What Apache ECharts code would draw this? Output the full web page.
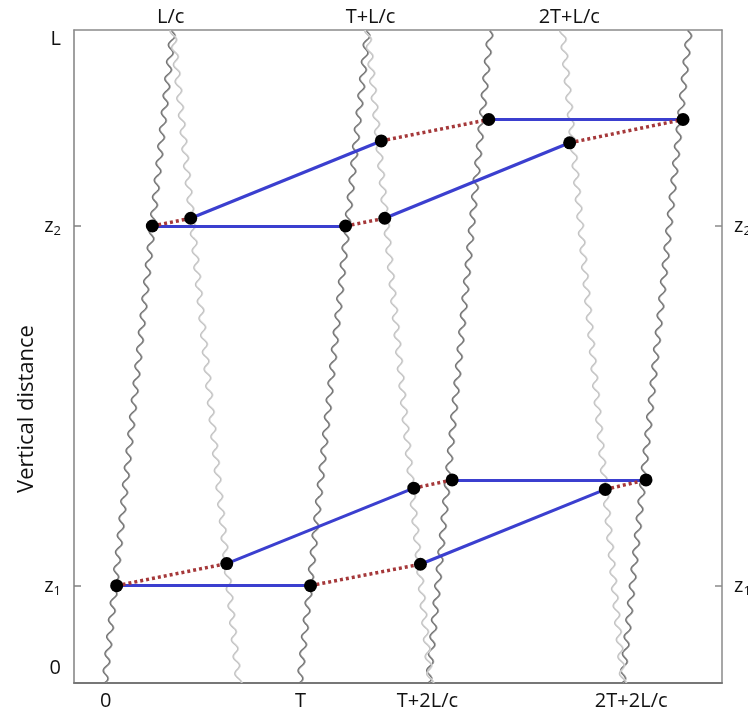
<!DOCTYPE html>
<html>
<head>
<meta charset="utf-8">
<script src="https://cdn.jsdelivr.net/npm/echarts@6/dist/echarts.min.js"></script>
<style>
html,body{margin:0;padding:0;background:#fff;}
#chart{width:748px;height:713px;}
</style>
</head>
<body>
<div id="chart"></div>
<script>
// ---- data (time in units where T = 10, height in units where L = 100) ----
const xRange = [-1.63, 31.63];
const yRange = [-2.38, 101.43];

// up-going wave fronts: [x at bottom, x at top]
const upWaves = [[-0.05, 3.44], [9.95, 13.44], [16.56, 19.74], [26.51, 29.95]];
// down-going (reflected) wave fronts: [x at top, x at bottom]
const downWaves = [[3.44, 6.82], [13.44, 16.67], [23.44, 26.56]];

// points
const pA = [2.39, 70.27], pB = [4.36, 71.5], pC = [12.31, 70.27], pD = [14.32, 71.5];
const pE = [14.14, 83.8], pF = [19.66, 87.2], pG = [29.63, 87.2], pH = [23.81, 83.5];
const qa = [0.56, 13.1], qb = [6.21, 16.6], qc = [10.51, 13.1], qd = [15.81, 28.6];
const qg = [16.15, 16.5], qe = [17.78, 29.9], qh = [25.64, 28.4], qf = [27.73, 29.9];

const blueSegments = [[pA, pC], [pB, pE], [pF, pG], [pD, pH], [qa, qc], [qb, qd], [qe, qf], [qg, qh]];
const redSegments = [[pA, pB], [pC, pD], [pE, pF], [pH, pG], [qa, qb], [qc, qg], [qd, qe], [qh, qf]];
const dots = [pA, pB, pC, pD, pE, pF, pG, pH, qa, qb, qc, qd, qg, qe, qh, qf];

// tick labels
const bottomTickValues = [0, 10, 16.51, 26.97];
const bottomTickLabels = ['0', 'T', 'T+2L/c', '2T+2L/c'];
const topTickValues = [3.33, 13.59, 23.79];
const topTickLabels = ['L/c', 'T+L/c', '2T+L/c'];
const leftTickValues = [0, 13.04, 70.27, 100];
const leftTickLabels = ['0', 'z{s|1}', 'z{s|2}', 'L'];
const rightTickValues = [13.04, 70.27];
const rightTickLabels = ['z{s|1}', 'z{s|2}'];
const yTickMarks = [13.04, 70.27];

function lookup(vals, labels) {
  return function (v) {
    for (let i = 0; i < vals.length; i++) if (Math.abs(vals[i] - v) < 1e-6) return labels[i];
    return '';
  };
}

const FONT = 'Open Sans';
const labelStyle = { fontFamily: FONT, fontSize: 20, color: '#111',
  rich: { s: { fontFamily: FONT, fontSize: 13, color: '#111', verticalAlign: 'bottom', padding: [10, 0, 0, 0] } } };

const waveData = upWaves.map(w => [w[0], w[1], 0]).concat(downWaves.map(w => [w[1], w[0], 1]));

function renderWave(params, api) {
  const xb = api.value(0), xt = api.value(1), kind = api.value(2);
  const p0 = api.coord([xb, yRange[0]]);
  const p1 = api.coord([xt, yRange[1]]);
  const dx = p1[0] - p0[0], dy = p1[1] - p0[1];
  const len = Math.sqrt(dx * dx + dy * dy);
  const amp = 2.8, lambda = 17;
  const pts = [];
  for (let s = 0; s <= len; s += 1) {
    const t = s / len;
    pts.push([p0[0] + dx * t + amp * Math.sin(2 * Math.PI * s / lambda + kind * 1.3), p0[1] + dy * t]);
  }
  return {
    type: 'group',
    children: [
      { type: 'polyline', shape: { points: pts },
        style: { stroke: kind === 0 ? '#727272' : '#c2c2c2', lineWidth: 1.7, fill: null } },
      { type: 'polyline', shape: { points: pts.map(p => [p[0] + 0.8, p[1]]) },
        style: { stroke: kind === 0 ? '#b4b4b4' : '#e4e4e4', lineWidth: 0.7, fill: null } }
    ]
  };
}

const chart = echarts.init(document.getElementById('chart'), null, { renderer: 'canvas' });
chart.setOption({
  backgroundColor: '#fff',
  animation: false,
  grid: { left: 74, right: 26, top: 30, bottom: 30, containLabel: false, outerBoundsMode: 'none' },
  xAxis: [
    { type: 'value', min: xRange[0], max: xRange[1], position: 'bottom',
      axisLine: { show: true, onZero: false, lineStyle: { color: '#777', width: 2 } },
      axisTick: { show: false }, splitLine: { show: false },
      axisLabel: Object.assign({ customValues: bottomTickValues, formatter: lookup(bottomTickValues, bottomTickLabels), margin: 8 }, labelStyle) },
    { type: 'value', min: xRange[0], max: xRange[1], position: 'top',
      axisLine: { show: true, onZero: false, lineStyle: { color: '#8a8a8a', width: 1.5 } },
      axisTick: { show: false }, splitLine: { show: false },
      axisLabel: Object.assign({ customValues: topTickValues, formatter: lookup(topTickValues, topTickLabels), margin: 3 }, labelStyle) }
  ],
  yAxis: [
    { type: 'value', min: yRange[0], max: yRange[1], position: 'left',
      axisLine: { show: true, onZero: false, lineStyle: { color: '#808080', width: 1.5 } },
      axisTick: { show: true, inside: true, length: 7, customValues: yTickMarks, lineStyle: { color: '#808080', width: 1.5 } },
      splitLine: { show: false },
      axisLabel: Object.assign({ customValues: leftTickValues, formatter: lookup(leftTickValues, leftTickLabels), margin: 13 }, labelStyle) },
    { type: 'value', min: yRange[0], max: yRange[1], position: 'right',
      axisLine: { show: true, onZero: false, lineStyle: { color: '#8a8a8a', width: 1.5 } },
      axisTick: { show: true, inside: true, length: 7, customValues: yTickMarks, lineStyle: { color: '#8a8a8a', width: 1.5 } },
      splitLine: { show: false },
      axisLabel: Object.assign({ customValues: rightTickValues, formatter: lookup(rightTickValues, rightTickLabels), margin: 12, hideOverlap: false }, labelStyle) }
  ],
  graphic: [
    { type: 'text', x: 27, y: 409, rotation: Math.PI / 2,
      style: { text: 'Vertical distance', fontFamily: FONT, fontSize: 22, fill: '#111', textAlign: 'center', textVerticalAlign: 'middle' } }
  ],
  series: [
    { type: 'custom', xAxisIndex: 0, yAxisIndex: 0, renderItem: renderWave, data: waveData, z: 1, silent: true, clip: true },
    { type: 'lines', coordinateSystem: 'cartesian2d', xAxisIndex: 0, yAxisIndex: 0, z: 3,
      lineStyle: { color: '#3b3fcf', width: 3.2, opacity: 1, curveness: 0 },
      data: blueSegments.map(s => ({ coords: s })) },
    { type: 'lines', coordinateSystem: 'cartesian2d', xAxisIndex: 0, yAxisIndex: 0, z: 3,
      lineStyle: { color: '#a5383a', width: 3.5, opacity: 1, type: [3, 3], cap: 'butt', curveness: 0 },
      data: redSegments.map(s => ({ coords: s })) },
    { type: 'scatter', xAxisIndex: 0, yAxisIndex: 0, z: 5, symbol: 'circle', symbolSize: 13,
      itemStyle: { color: '#000', opacity: 1 }, data: dots }
  ]
});
</script>
</body>
</html>
